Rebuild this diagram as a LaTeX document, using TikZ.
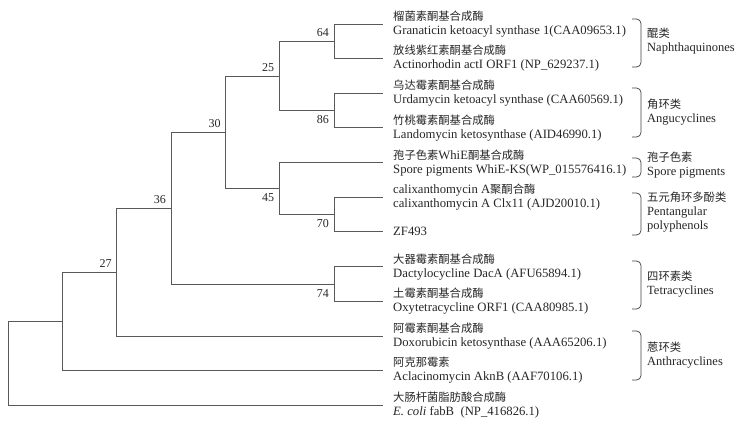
\documentclass[tikz,border=0pt]{standalone}
\usepackage{fontspec}
\setmainfont{Liberation Serif}
\newfontfamily\cjk{Noto Sans CJK SC}
\newcommand\zhtxt[1]{{\cjk\fontsize{11.3}{14}\selectfont #1}}
\begin{document}
\begin{tikzpicture}[x=1pt,y=-1pt,
  branch/.style={draw=black!65, line width=0.8pt},
  leaf/.style={anchor=west, inner xsep=10pt, inner ysep=0pt, align=left,
    font=\fontsize{12.7}{14}\selectfont, text=black!85},
  boot/.style={font=\fontsize{12}{12}\selectfont, inner sep=1pt, text=black!85},
  grp/.style={anchor=west, inner sep=0pt, align=left,
    font=\fontsize{12.5}{14}\selectfont, text=black!85},
  brace/.style={draw=black!75, line width=0.7pt, rounded corners=4.5pt}]
\useasboundingbox (0,0) rectangle (742,431);

% leaves
\node[leaf] (L1) at (383,24) {\zhtxt{榴菌素酮基合成酶}\\Granaticin ketoacyl synthase 1(CAA09653.1)};
\node[leaf] (L2) at (383,58.3) {\zhtxt{放线紫红素酮基合成酶}\\Actinorhodin actI ORF1 (NP\_629237.1)};
\node[leaf] (L3) at (383,93.3) {\zhtxt{乌达霉素酮基合成酶}\\Urdamycin ketoacyl synthase (CAA60569.1)};
\node[leaf] (L4) at (383,127.7) {\zhtxt{竹桃霉素酮基合成酶}\\Landomycin ketosynthase (AID46990.1)};
\node[leaf] (L5) at (383,162.7) {\zhtxt{孢子色素}WhiE\zhtxt{酮基合成酶}\\Spore pigments WhiE-KS(WP\_015576416.1)};
\node[leaf] (L6) at (383,197.3) {calixanthomycin A\zhtxt{聚酮合酶}\\calixanthomycin A Clx11 (AJD20010.1)};
\node[leaf] (L7) at (383,231.7) {ZF493};
\node[leaf] (L8) at (383,266.7) {\zhtxt{大器霉素酮基合成酶}\\Dactylocycline DacA (AFU65894.1)};
\node[leaf] (L9) at (383,301) {\zhtxt{土霉素酮基合成酶}\\Oxytetracycline ORF1 (CAA80985.1)};
\node[leaf] (L10) at (383,336) {\zhtxt{阿霉素酮基合成酶}\\Doxorubicin ketosynthase (AAA65206.1)};
\node[leaf] (L11) at (383,370) {\zhtxt{阿克那霉素}\\Aclacinomycin AknB (AAF70106.1)};
\node[leaf] (L12) at (383,405) {\zhtxt{大肠杆菌脂肪酸合成酶}\\\textit{E. coli} fabB~~(NP\_416826.1)};

% internal nodes
\coordinate (n64) at (334,41.2);
\coordinate (n86) at (334,110.5);
\coordinate (n25) at (279.3,75.9);
\coordinate (n70) at (334,214.5);
\coordinate (n45) at (279.3,188.6);
\coordinate (n30) at (225.7,132.2);
\coordinate (n74) at (334,283.9);
\coordinate (n36) at (171,208);
\coordinate (n27) at (116.7,272);
\coordinate (n0) at (62.3,321);
\coordinate (root) at (8,363);

% branches
\draw[branch] (n64) |- (L1.west);
\draw[branch] (n64) |- (L2.west);
\draw[branch] (n86) |- (L3.west);
\draw[branch] (n86) |- (L4.west);
\draw[branch] (n25) |- (n64);
\draw[branch] (n25) |- (n86);
\draw[branch] (n70) |- (L6.west);
\draw[branch] (n70) |- (L7.west);
\draw[branch] (n45) |- (L5.west);
\draw[branch] (n45) |- (n70);
\draw[branch] (n30) |- (n25);
\draw[branch] (n30) |- (n45);
\draw[branch] (n74) |- (L8.west);
\draw[branch] (n74) |- (L9.west);
\draw[branch] (n36) |- (n30);
\draw[branch] (n36) |- (n74);
\draw[branch] (n27) |- (n36);
\draw[branch] (n27) |- (L10.west);
\draw[branch] (n0) |- (n27);
\draw[branch] (n0) |- (L11.west);
\draw[branch] (root) |- (n0);
\draw[branch] (root) |- (L12.west);

% bootstrap values
\node[boot, anchor=south east] (b64) at ([xshift=-4pt,yshift=3.5pt]n64) {64};
\node[boot, anchor=south east] (b25) at ([xshift=-4pt,yshift=3.5pt]n25) {25};
\node[boot, anchor=south east] (b30) at ([xshift=-4pt,yshift=3.5pt]n30) {30};
\node[boot, anchor=south east] (b36) at ([xshift=-4pt,yshift=3.5pt]n36) {36};
\node[boot, anchor=south east] (b27) at ([xshift=-4pt,yshift=3.5pt]n27) {27};
\node[boot, anchor=north east] (b86) at ([xshift=-4pt,yshift=-4pt]n86) {86};
\node[boot, anchor=north east] (b45) at ([xshift=-4pt,yshift=-4pt]n45) {45};
\node[boot, anchor=north east] (b70) at ([xshift=-4pt,yshift=-4pt]n70) {70};
\node[boot, anchor=north east] (b74) at ([xshift=-4pt,yshift=-4pt]n74) {74};

% group brackets
\draw[brace] (632,19) -- (641,19) -- (641,67) -- (632,67);
\draw[brace] (632,88) -- (641,88) -- (641,137) -- (632,137);
\draw[brace] (632,158) -- (641,158) -- (641,177) -- (632,177);
\draw[brace] (632,193) -- (641,193) -- (641,235) -- (632,235);
\draw[brace] (632,261) -- (641,261) -- (641,309) -- (632,309);
\draw[brace] (632,331) -- (641,331) -- (641,380) -- (632,380);

% group labels
\node[grp] (g1) at (647,41) {\zhtxt{醌类}\\Naphthaquinones};
\node[grp] (g2) at (647,112) {\zhtxt{角环类}\\Angucyclines};
\node[grp] (g3) at (647,165) {\zhtxt{孢子色素}\\Spore pigments};
\node[grp] (g4) at (647,212) {\zhtxt{五元角环多酚类}\\Pentangular\\polyphenols};
\node[grp] (g5) at (647,284) {\zhtxt{四环素类}\\Tetracyclines};
\node[grp] (g6) at (647,355) {\zhtxt{蒽环类}\\Anthracyclines};
\end{tikzpicture}
\end{document}
